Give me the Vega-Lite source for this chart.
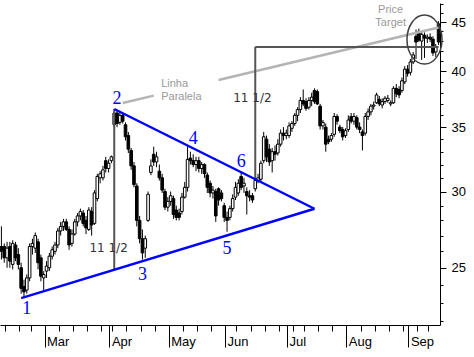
{
  "$schema": "https://vega.github.io/schema/vega-lite/v6.json",
  "width": 440,
  "height": 322,
  "autosize": {"type": "none"},
  "padding": {"left": 0, "top": 3, "right": 34, "bottom": 32},
  "background": "white",
  "config": {"view": {"stroke": null}, "font": "Liberation Sans"},
  "datasets": {
    "ohlc": [
      {"date":"1999-02-04","open":26.3,"high":27.6,"low":25.5,"close":26.0},
      {"date":"1999-02-05","open":26.3,"high":26.5,"low":25.3,"close":25.6},
      {"date":"1999-02-08","open":25.6,"high":26.6,"low":25.0,"close":26.2},
      {"date":"1999-02-09","open":26.3,"high":26.6,"low":25.0,"close":25.4},
      {"date":"1999-02-10","open":25.2,"high":26.7,"low":24.9,"close":26.5},
      {"date":"1999-02-11","open":26.4,"high":26.6,"low":25.4,"close":25.6},
      {"date":"1999-02-12","open":25.8,"high":26.2,"low":24.9,"close":25.2},
      {"date":"1999-02-16","open":25.0,"high":25.3,"low":23.5,"close":23.8},
      {"date":"1999-02-17","open":23.9,"high":24.3,"low":23.25,"close":23.6},
      {"date":"1999-02-18","open":23.7,"high":24.6,"low":23.5,"close":24.4},
      {"date":"1999-02-19","open":24.4,"high":26.5,"low":24.2,"close":26.3},
      {"date":"1999-02-22","open":26.3,"high":26.8,"low":25.8,"close":26.5},
      {"date":"1999-02-23","open":26.2,"high":27.2,"low":25.9,"close":27.0},
      {"date":"1999-02-24","open":26.6,"high":26.8,"low":24.9,"close":25.3},
      {"date":"1999-02-25","open":25.6,"high":25.8,"low":24.2,"close":24.5},
      {"date":"1999-02-26","open":24.4,"high":24.8,"low":23.7,"close":24.6},
      {"date":"1999-03-01","open":24.8,"high":25.4,"low":24.4,"close":25.1},
      {"date":"1999-03-02","open":25.0,"high":25.9,"low":24.8,"close":25.7},
      {"date":"1999-03-03","open":25.7,"high":26.3,"low":25.5,"close":26.1},
      {"date":"1999-03-04","open":26.0,"high":26.6,"low":25.8,"close":26.4},
      {"date":"1999-03-05","open":26.4,"high":27.5,"low":26.2,"close":27.3},
      {"date":"1999-03-08","open":27.3,"high":27.9,"low":27.0,"close":27.6},
      {"date":"1999-03-09","open":27.6,"high":28.1,"low":27.3,"close":27.9},
      {"date":"1999-03-10","open":27.9,"high":28.1,"low":27.3,"close":27.4},
      {"date":"1999-03-11","open":27.4,"high":27.6,"low":26.1,"close":26.4},
      {"date":"1999-03-12","open":26.5,"high":27.4,"low":26.3,"close":27.1},
      {"date":"1999-03-15","open":27.1,"high":28.1,"low":27.0,"close":27.9},
      {"date":"1999-03-16","open":27.9,"high":28.5,"low":27.6,"close":28.3},
      {"date":"1999-03-17","open":28.3,"high":28.8,"low":28.0,"close":28.6},
      {"date":"1999-03-18","open":28.5,"high":28.7,"low":27.6,"close":27.8},
      {"date":"1999-03-19","open":28.0,"high":28.3,"low":27.1,"close":27.5},
      {"date":"1999-03-22","open":27.4,"high":28.9,"low":27.3,"close":28.7},
      {"date":"1999-03-23","open":28.6,"high":28.9,"low":27.0,"close":27.7},
      {"date":"1999-03-24","open":27.8,"high":30.1,"low":27.7,"close":29.9},
      {"date":"1999-03-25","open":29.5,"high":31.3,"low":29.3,"close":31.1},
      {"date":"1999-03-26","open":31.0,"high":31.5,"low":30.6,"close":31.3},
      {"date":"1999-03-29","open":31.0,"high":31.9,"low":30.8,"close":31.6},
      {"date":"1999-03-30","open":32.3,"high":32.6,"low":31.4,"close":31.7},
      {"date":"1999-03-31","open":31.7,"high":32.4,"low":31.4,"close":32.1},
      {"date":"1999-04-01","open":32.3,"high":32.7,"low":32.1,"close":32.6},
      {"date":"1999-04-05","open":35.2,"high":36.55,"low":34.9,"close":36.2},
      {"date":"1999-04-06","open":36.2,"high":36.4,"low":35.0,"close":35.3},
      {"date":"1999-04-07","open":35.4,"high":36.3,"low":35.2,"close":36.0},
      {"date":"1999-04-08","open":36.0,"high":36.2,"low":35.3,"close":35.5},
      {"date":"1999-04-09","open":35.2,"high":35.4,"low":33.9,"close":34.2},
      {"date":"1999-04-12","open":34.3,"high":34.6,"low":32.9,"close":33.2},
      {"date":"1999-04-13","open":33.1,"high":33.3,"low":31.6,"close":31.9},
      {"date":"1999-04-14","open":31.9,"high":32.2,"low":30.3,"close":30.5},
      {"date":"1999-04-15","open":30.4,"high":30.6,"low":27.6,"close":28.0},
      {"date":"1999-04-16","open":28.0,"high":28.3,"low":26.5,"close":26.8},
      {"date":"1999-04-19","open":26.8,"high":27.4,"low":25.5,"close":25.9},
      {"date":"1999-04-20","open":26.2,"high":27.0,"low":25.6,"close":26.8},
      {"date":"1999-04-21","open":28.0,"high":30.0,"low":27.9,"close":29.8},
      {"date":"1999-04-22","open":31.4,"high":32.4,"low":31.2,"close":31.9},
      {"date":"1999-04-23","open":32.8,"high":33.4,"low":31.9,"close":32.2},
      {"date":"1999-04-26","open":32.2,"high":33.0,"low":31.8,"close":32.6},
      {"date":"1999-04-27","open":31.5,"high":32.0,"low":30.8,"close":31.0},
      {"date":"1999-04-28","open":31.0,"high":31.3,"low":29.9,"close":30.1},
      {"date":"1999-04-29","open":30.0,"high":30.2,"low":28.7,"close":28.9},
      {"date":"1999-04-30","open":28.9,"high":29.6,"low":28.6,"close":29.3},
      {"date":"1999-05-03","open":29.3,"high":30.0,"low":29.0,"close":29.7},
      {"date":"1999-05-04","open":29.5,"high":29.7,"low":28.1,"close":28.4},
      {"date":"1999-05-05","open":28.7,"high":29.0,"low":28.0,"close":28.2},
      {"date":"1999-05-06","open":28.5,"high":28.8,"low":28.0,"close":28.2},
      {"date":"1999-05-07","open":28.6,"high":29.9,"low":28.4,"close":29.6},
      {"date":"1999-05-10","open":29.6,"high":30.7,"low":29.5,"close":30.3},
      {"date":"1999-05-11","open":30.3,"high":33.5,"low":30.0,"close":32.4},
      {"date":"1999-05-12","open":32.5,"high":33.0,"low":32.0,"close":32.3},
      {"date":"1999-05-13","open":32.3,"high":32.8,"low":31.8,"close":32.0},
      {"date":"1999-05-14","open":32.0,"high":32.6,"low":31.5,"close":32.3},
      {"date":"1999-05-17","open":32.3,"high":32.6,"low":31.4,"close":31.7},
      {"date":"1999-05-18","open":31.7,"high":32.2,"low":31.3,"close":32.0},
      {"date":"1999-05-19","open":32.0,"high":32.1,"low":31.0,"close":31.3},
      {"date":"1999-05-20","open":31.2,"high":31.4,"low":29.9,"close":30.3},
      {"date":"1999-05-21","open":30.6,"high":30.8,"low":29.6,"close":29.9},
      {"date":"1999-05-24","open":29.9,"high":30.4,"low":29.5,"close":30.1},
      {"date":"1999-05-25","open":30.0,"high":30.2,"low":27.9,"close":28.3},
      {"date":"1999-05-26","open":30.2,"high":30.3,"low":29.0,"close":29.4},
      {"date":"1999-05-27","open":29.9,"high":30.1,"low":29.3,"close":29.5},
      {"date":"1999-05-28","open":29.0,"high":29.2,"low":27.9,"close":28.2},
      {"date":"1999-06-01","open":28.2,"high":28.6,"low":27.25,"close":28.0},
      {"date":"1999-06-02","open":28.2,"high":29.0,"low":28.0,"close":28.8},
      {"date":"1999-06-03","open":28.8,"high":29.8,"low":28.6,"close":29.5},
      {"date":"1999-06-04","open":29.6,"high":30.7,"low":29.4,"close":30.3},
      {"date":"1999-06-07","open":29.9,"high":30.9,"low":29.7,"close":30.6},
      {"date":"1999-06-08","open":31.1,"high":31.4,"low":30.1,"close":30.3},
      {"date":"1999-06-09","open":30.4,"high":31.0,"low":29.9,"close":30.6},
      {"date":"1999-06-10","open":30.0,"high":30.3,"low":28.4,"close":29.7},
      {"date":"1999-06-11","open":29.7,"high":30.1,"low":29.3,"close":29.6},
      {"date":"1999-06-14","open":29.7,"high":29.9,"low":29.2,"close":29.4},
      {"date":"1999-06-15","open":30.2,"high":31.0,"low":30.0,"close":30.8},
      {"date":"1999-06-16","open":30.8,"high":31.3,"low":30.6,"close":31.0},
      {"date":"1999-06-17","open":30.9,"high":32.3,"low":30.7,"close":32.1},
      {"date":"1999-06-18","open":32.3,"high":34.6,"low":32.1,"close":34.2},
      {"date":"1999-06-21","open":34.0,"high":34.3,"low":32.2,"close":32.6},
      {"date":"1999-06-22","open":33.2,"high":33.6,"low":31.9,"close":32.2},
      {"date":"1999-06-23","open":32.3,"high":33.3,"low":31.4,"close":33.0},
      {"date":"1999-06-24","open":33.0,"high":33.5,"low":32.3,"close":32.8},
      {"date":"1999-06-25","open":32.9,"high":34.0,"low":32.7,"close":33.6},
      {"date":"1999-06-28","open":33.6,"high":34.8,"low":33.4,"close":34.5},
      {"date":"1999-06-29","open":34.5,"high":35.0,"low":33.9,"close":34.3},
      {"date":"1999-06-30","open":34.3,"high":34.8,"low":34.0,"close":34.5},
      {"date":"1999-07-01","open":34.3,"high":35.4,"low":34.1,"close":35.1},
      {"date":"1999-07-02","open":34.9,"high":35.5,"low":34.6,"close":35.3},
      {"date":"1999-07-06","open":35.3,"high":36.2,"low":35.1,"close":36.0},
      {"date":"1999-07-07","open":36.0,"high":36.7,"low":35.5,"close":36.5},
      {"date":"1999-07-08","open":36.5,"high":37.6,"low":36.2,"close":37.3},
      {"date":"1999-07-09","open":37.3,"high":38.3,"low":36.8,"close":37.0},
      {"date":"1999-07-12","open":37.2,"high":37.5,"low":36.4,"close":36.6},
      {"date":"1999-07-13","open":36.7,"high":37.6,"low":36.5,"close":37.3},
      {"date":"1999-07-14","open":37.3,"high":38.0,"low":36.8,"close":37.6},
      {"date":"1999-07-15","open":38.2,"high":38.4,"low":37.0,"close":37.2},
      {"date":"1999-07-16","open":38.1,"high":38.3,"low":36.9,"close":37.0},
      {"date":"1999-07-19","open":36.8,"high":37.0,"low":34.8,"close":35.1},
      {"date":"1999-07-20","open":35.1,"high":35.6,"low":34.8,"close":35.4},
      {"date":"1999-07-21","open":35.0,"high":35.3,"low":33.0,"close":33.6},
      {"date":"1999-07-22","open":34.0,"high":34.3,"low":33.6,"close":33.8},
      {"date":"1999-07-23","open":34.0,"high":34.5,"low":33.8,"close":34.3},
      {"date":"1999-07-26","open":34.4,"high":36.2,"low":34.2,"close":35.9},
      {"date":"1999-07-27","open":35.9,"high":36.1,"low":35.2,"close":35.5},
      {"date":"1999-07-28","open":35.0,"high":35.2,"low":34.5,"close":34.7},
      {"date":"1999-07-29","open":34.8,"high":35.0,"low":33.9,"close":34.2},
      {"date":"1999-07-30","open":34.3,"high":34.9,"low":34.1,"close":34.7},
      {"date":"1999-08-02","open":34.8,"high":36.0,"low":34.6,"close":35.6},
      {"date":"1999-08-03","open":35.9,"high":36.2,"low":35.3,"close":35.5},
      {"date":"1999-08-04","open":35.5,"high":36.2,"low":35.2,"close":35.9},
      {"date":"1999-08-05","open":35.8,"high":36.0,"low":34.8,"close":35.0},
      {"date":"1999-08-06","open":35.0,"high":35.4,"low":34.5,"close":34.8},
      {"date":"1999-08-09","open":34.6,"high":34.8,"low":33.1,"close":34.3},
      {"date":"1999-08-10","open":34.5,"high":36.2,"low":34.3,"close":35.9},
      {"date":"1999-08-11","open":35.9,"high":36.6,"low":35.6,"close":36.3},
      {"date":"1999-08-12","open":36.3,"high":37.0,"low":36.0,"close":36.8},
      {"date":"1999-08-13","open":36.8,"high":37.2,"low":36.5,"close":36.9},
      {"date":"1999-08-16","open":37.1,"high":38.0,"low":37.0,"close":37.8},
      {"date":"1999-08-17","open":37.4,"high":37.7,"low":36.8,"close":37.0},
      {"date":"1999-08-18","open":36.9,"high":37.5,"low":36.6,"close":37.2},
      {"date":"1999-08-19","open":37.2,"high":37.7,"low":37.0,"close":37.5},
      {"date":"1999-08-20","open":37.3,"high":37.8,"low":37.1,"close":37.5},
      {"date":"1999-08-23","open":37.0,"high":37.3,"low":36.8,"close":37.1},
      {"date":"1999-08-24","open":37.1,"high":38.6,"low":37.0,"close":38.4},
      {"date":"1999-08-25","open":38.4,"high":38.8,"low":37.6,"close":37.9},
      {"date":"1999-08-26","open":38.3,"high":38.6,"low":37.5,"close":37.8},
      {"date":"1999-08-27","open":38.2,"high":39.4,"low":38.0,"close":39.1},
      {"date":"1999-08-30","open":39.0,"high":40.5,"low":38.8,"close":40.2},
      {"date":"1999-08-31","open":40.2,"high":40.6,"low":39.5,"close":39.8},
      {"date":"1999-09-01","open":39.9,"high":41.2,"low":39.6,"close":40.9},
      {"date":"1999-09-02","open":40.9,"high":41.9,"low":40.7,"close":41.6},
      {"date":"1999-09-03","open":43.5,"high":44.2,"low":41.2,"close":42.9},
      {"date":"1999-09-07","open":44.0,"high":44.3,"low":42.9,"close":43.1},
      {"date":"1999-09-08","open":43.0,"high":44.0,"low":41.1,"close":43.7},
      {"date":"1999-09-09","open":43.6,"high":43.9,"low":41.3,"close":43.3},
      {"date":"1999-09-10","open":43.3,"high":43.7,"low":42.8,"close":43.4},
      {"date":"1999-09-13","open":43.4,"high":43.8,"low":42.9,"close":43.2},
      {"date":"1999-09-14","open":43.2,"high":43.5,"low":41.5,"close":41.8},
      {"date":"1999-09-15","open":41.9,"high":42.7,"low":41.4,"close":42.4},
      {"date":"1999-09-16","open":44.8,"high":45.1,"low":42.6,"close":42.9}
    ],
    "lines": [
      {"name":"upper","date":"1999-04-05","price":36.55},
      {"name":"upper","date":"1999-07-15","price":28.79},
      {"name":"lower","date":"1999-02-16","price":23.25},
      {"name":"lower","date":"1999-07-15","price":28.79},
      {"name":"v1","date":"1999-04-05","price":36.55},
      {"name":"v1","date":"1999-04-05","price":24.88},
      {"name":"v2","date":"1999-06-15","price":30.89},
      {"name":"v2","date":"1999-06-15","price":42.4},
      {"name":"h","date":"1999-06-15","price":42.4},
      {"name":"h","date":"1999-09-16","price":42.4},
      {"name":"p1","date":"1999-04-08","price":37.08},
      {"name":"p1","date":"1999-04-23","price":37.74},
      {"name":"p2","date":"1999-05-26","price":39.17},
      {"name":"p2","date":"1999-09-16","price":44.41}
    ],
    "notes": [
      {"group":"point","text":"1","date":"1999-02-18","price":22.67},
      {"group":"point","text":"2","date":"1999-04-06","price":37.42},
      {"group":"point","text":"3","date":"1999-04-19","price":24.59},
      {"group":"point","text":"4","date":"1999-05-13","price":34.02},
      {"group":"point","text":"5","date":"1999-06-01","price":26.16},
      {"group":"point","text":"6","date":"1999-06-08","price":32.2},
      {"group":"measure","text":"11 1/2","date":"1999-03-31","price":26.22},
      {"group":"measure","text":"11 1/2","date":"1999-06-14","price":37.5},
      {"group":"side","text":"Linha","date":"1999-04-28","price":38.8},
      {"group":"side","text":"Paralela","date":"1999-04-28","price":37.6},
      {"group":"target","text":"Price","date":"1999-08-23","price":46.31},
      {"group":"target","text":"Target","date":"1999-08-23","price":44.89}
    ]
  },
  "layer": [
    {
      "data": {"name": "ohlc"},
      "mark": {"type": "rule", "color": "black", "strokeWidth": 1},
      "encoding": {
        "x": {
          "field": "date", "type": "ordinal", "title": null,
          "scale": {"type": "band", "paddingInner": 0, "paddingOuter": 0},
          "axis": {
            "title": null,
            "values": ["1999-02-04","1999-02-08","1999-02-16","1999-02-22","1999-03-01","1999-03-08","1999-03-15","1999-03-22","1999-03-29","1999-04-01","1999-04-05","1999-04-12","1999-04-19","1999-04-26","1999-05-03","1999-05-10","1999-05-17","1999-05-24","1999-06-01","1999-06-07","1999-06-14","1999-06-21","1999-06-28","1999-07-01","1999-07-06","1999-07-12","1999-07-19","1999-07-26","1999-08-02","1999-08-09","1999-08-16","1999-08-23","1999-08-30","1999-09-01","1999-09-07","1999-09-13"],
            "bandPosition": 0,
            "labelAngle": 0,
            "labelExpr": "datum.value === '1999-02-04' ? 'Feb' : (indexof(['1999-03-01','1999-04-01','1999-05-03','1999-06-01','1999-07-01','1999-08-02','1999-09-01'], datum.value) >= 0 ? utcFormat(toDate(datum.value), '%b') : '')",
            "tickSize": {"condition": {"test": "indexof(['1999-02-04','1999-03-01','1999-04-01','1999-05-03','1999-06-01','1999-07-01','1999-08-02','1999-09-01'], datum.value) >= 0", "value": 22}, "value": 6},
            "tickColor": "black",
            "labelOffset": {"expr": "datum.value === '1999-02-04' ? -9.5 : 0.5"},
            "labelAlign": "left",
            "labelBaseline": "alphabetic",
            "labelPadding": -2,
            "labelFont": "Liberation Sans",
            "labelFontSize": 13,
            "labelColor": "black",
            "labelOverlap": false,
            "labelBound": false,
            "labelFlush": false,
            "domainColor": "black",
            "grid": false
          }
        },
        "y": {
          "field": "low", "type": "quantitative", "title": null,
          "scale": {"type": "log", "domain": [21.8, 47.1], "nice": false, "zero": false},
          "axis": {
            "title": null,
            "orient": "right",
            "values": [22,23,24,25,26,27,28,29,30,31,32,33,34,35,36,37,38,39,40,41,42,43,44,45,46,47],
            "labelExpr": "datum.value % 5 === 0 ? datum.label : ''",
            "tickSize": {"condition": {"test": "datum.value % 5 === 0", "value": 6}, "value": 3},
            "labelPadding": 5,
            "labelAlign": "left",
            "labelBaseline": "middle",
            "labelFont": "Liberation Sans",
            "labelFontSize": 13,
            "labelColor": "black",
            "labelOverlap": false,
            "labelFlush": false,
            "tickColor": "black",
            "domainColor": "black",
            "grid": false,
            "format": "d"
          }
        },
        "y2": {"field": "high"}
      }
    },
    {
      "data": {"name": "ohlc"},
      "mark": {"type": "bar", "size": 2.6, "stroke": "black", "strokeWidth": 1},
      "encoding": {
        "x": {"field": "date", "type": "ordinal", "title": null},
        "y": {"field": "open", "type": "quantitative", "title": null},
        "y2": {"field": "close"},
        "fill": {"condition": {"test": "datum.close > datum.open", "value": "white"}, "value": "black"}
      }
    },
    {
      "data": {"name": "lines"},
      "transform": [{"filter": "indexof(['p1','p2'], datum.name) >= 0"}],
      "mark": {"type": "line", "color": "#b4b4b4", "strokeWidth": 2.5},
      "encoding": {
        "x": {"field": "date", "type": "ordinal", "title": null},
        "y": {"field": "price", "type": "quantitative", "title": null},
        "detail": {"field": "name"}
      }
    },
    {
      "data": {"name": "lines"},
      "transform": [{"filter": "indexof(['v1','v2','h'], datum.name) >= 0"}],
      "mark": {"type": "line", "color": "#555555", "strokeWidth": 2},
      "encoding": {
        "x": {"field": "date", "type": "ordinal", "title": null},
        "y": {"field": "price", "type": "quantitative", "title": null},
        "detail": {"field": "name"}
      }
    },
    {
      "data": {"name": "lines"},
      "transform": [{"filter": "indexof(['upper','lower'], datum.name) >= 0"}],
      "mark": {"type": "line", "color": "#0000ff", "strokeWidth": 2.5},
      "encoding": {
        "x": {"field": "date", "type": "ordinal", "title": null},
        "y": {"field": "price", "type": "quantitative", "title": null},
        "detail": {"field": "name"}
      }
    },
    {
      "data": {"values": [{"date": "1999-09-09", "price": 43.16}]},
      "mark": {"type": "point", "shape": "M0,-1.4A1,1.4 0 1,1 0,1.4A1,1.4 0 1,1 0,-1.4Z", "size": 1225, "filled": false, "stroke": "#404040", "strokeWidth": 1.5, "opacity": 1},
      "encoding": {
        "x": {"field": "date", "type": "ordinal", "title": null},
        "y": {"field": "price", "type": "quantitative", "title": null}
      }
    },
    {
      "data": {"name": "notes"},
      "transform": [{"filter": "datum.group === 'point'"}],
      "mark": {"type": "text", "font": "Liberation Serif", "fontSize": 18, "color": "#0000ff", "align": "center", "baseline": "middle"},
      "encoding": {
        "x": {"field": "date", "type": "ordinal", "title": null},
        "y": {"field": "price", "type": "quantitative", "title": null},
        "text": {"field": "text"}
      }
    },
    {
      "data": {"name": "notes"},
      "transform": [{"filter": "datum.group === 'measure'"}],
      "mark": {"type": "text", "font": "DejaVu Sans", "fontSize": 12, "color": "#333333", "align": "center", "baseline": "middle"},
      "encoding": {
        "x": {"field": "date", "type": "ordinal", "title": null},
        "y": {"field": "price", "type": "quantitative", "title": null},
        "text": {"field": "text"}
      }
    },
    {
      "data": {"name": "notes"},
      "transform": [{"filter": "datum.group === 'side'"}],
      "mark": {"type": "text", "font": "Liberation Sans", "fontSize": 11, "color": "#999999", "align": "left", "baseline": "middle", "dx": -1},
      "encoding": {
        "x": {"field": "date", "type": "ordinal", "title": null},
        "y": {"field": "price", "type": "quantitative", "title": null},
        "text": {"field": "text"}
      }
    },
    {
      "data": {"name": "notes"},
      "transform": [{"filter": "datum.group === 'target'"}],
      "mark": {"type": "text", "font": "Liberation Sans", "fontSize": 11, "color": "#999999", "align": "center", "baseline": "middle"},
      "encoding": {
        "x": {"field": "date", "type": "ordinal", "title": null},
        "y": {"field": "price", "type": "quantitative", "title": null},
        "text": {"field": "text"}
      }
    }
  ]
}
